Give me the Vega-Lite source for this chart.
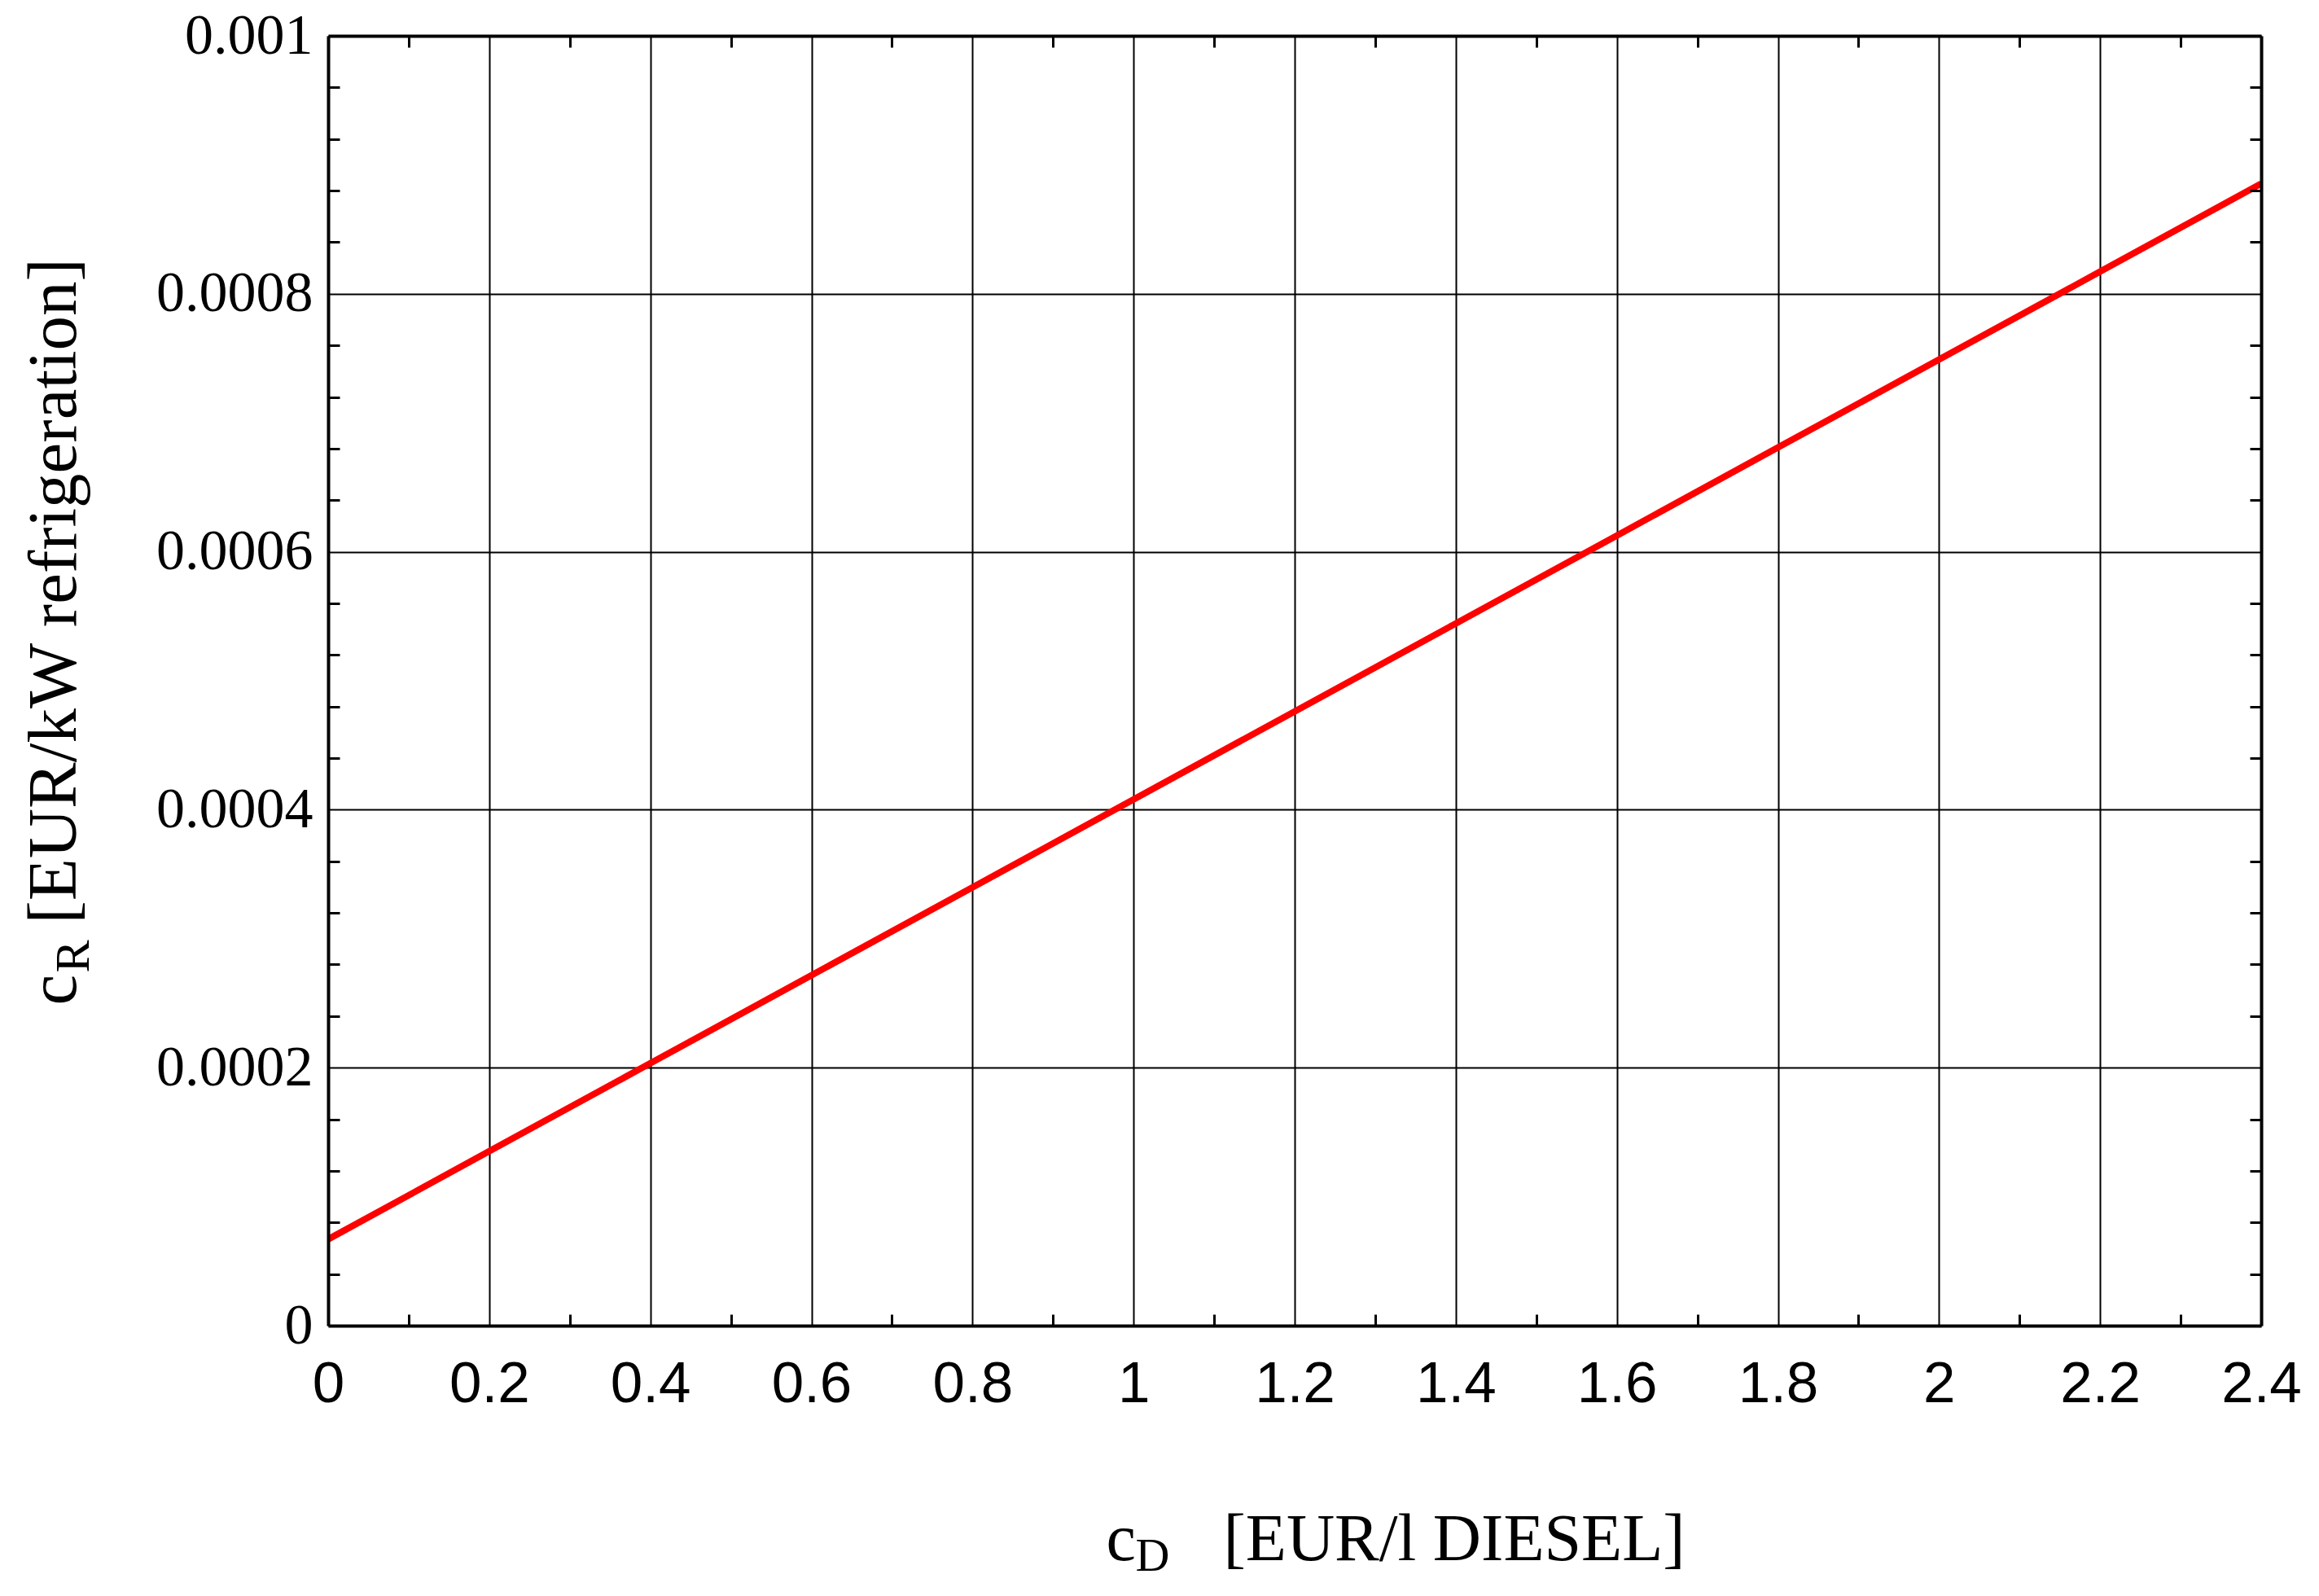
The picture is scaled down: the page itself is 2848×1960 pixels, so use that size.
{
  "$schema": "https://vega.github.io/schema/vega-lite/v6.json",
  "autosize": {"type": "none"},
  "padding": {"left": 403, "top": 44, "right": 71, "bottom": 332},
  "width": 2374,
  "height": 1584,
  "background": "white",
  "config": {
    "view": {"stroke": null},
    "axis": {
      "labelColor": "black",
      "titleColor": "black",
      "titleFontWeight": "normal",
      "titleLimit": 0,
      "labelLimit": 0,
      "labelOverlap": false,
      "labelFlush": false,
      "tickColor": "black",
      "domainColor": "black",
      "gridColor": "black",
      "gridOpacity": 1
    }
  },
  "data": {
    "values": [
      {"cD": 0.0, "cR": 0.0000670},
      {"cD": 0.2, "cR": 0.0001352},
      {"cD": 0.4, "cR": 0.0002034},
      {"cD": 0.6, "cR": 0.0002716},
      {"cD": 0.8, "cR": 0.0003398},
      {"cD": 1.0, "cR": 0.0004080},
      {"cD": 1.2, "cR": 0.0004762},
      {"cD": 1.4, "cR": 0.0005444},
      {"cD": 1.6, "cR": 0.0006126},
      {"cD": 1.8, "cR": 0.0006808},
      {"cD": 2.0, "cR": 0.0007490},
      {"cD": 2.2, "cR": 0.0008172},
      {"cD": 2.4, "cR": 0.0008854}
    ]
  },
  "resolve": {"axis": {"x": "independent", "y": "independent"}},
  "layer": [
    {
      "mark": {"type": "line", "color": "#ff0000", "strokeWidth": 8, "clip": true},
      "encoding": {
        "x": {
          "field": "cD", "type": "quantitative",
          "scale": {"domain": [0, 2.4], "nice": false, "zero": false},
          "axis": {
            "orient": "bottom",
            "values": [0, 0.2, 0.4, 0.6, 0.8, 1, 1.2, 1.4, 1.6, 1.8, 2, 2.2, 2.4],
            "format": "~g",
            "grid": true, "gridWidth": 2,
            "ticks": false, "domain": false,
            "labelFont": "Liberation Sans", "labelFontSize": 71,
            "labelBaseline": "alphabetic", "labelAlign": "center", "labelPadding": 93,
            "title": "[EUR/l DIESEL]",
            "titleFont": "Liberation Serif", "titleFontSize": 82,
            "titleAlign": "left", "titleBaseline": "alphabetic", "titleAngle": 0,
            "titleX": 1099, "titleY": 287,
            "zindex": 0
          }
        },
        "y": {
          "field": "cR", "type": "quantitative",
          "scale": {"domain": [0, 0.001], "nice": false, "zero": false},
          "axis": {
            "orient": "left",
            "values": [0, 0.0002, 0.0004, 0.0006, 0.0008, 0.001],
            "format": "~g",
            "grid": true, "gridWidth": 2,
            "ticks": false, "domain": false,
            "labelFont": "Liberation Serif", "labelFontSize": 70,
            "labelBaseline": "middle", "labelAlign": "right", "labelPadding": 19,
            "title": "[EUR/kW refrigeration]",
            "titleFont": "Liberation Serif", "titleFontSize": 85,
            "titleAlign": "left", "titleBaseline": "alphabetic", "titleAngle": -90,
            "titleX": -311, "titleY": 1090,
            "zindex": 0
          }
        }
      }
    },
    {
      "mark": {"type": "line", "strokeOpacity": 0},
      "encoding": {
        "x": {
          "field": "cD", "type": "quantitative",
          "axis": {
            "orient": "bottom",
            "values": [0.1, 0.3, 0.5, 0.7, 0.9, 1.1, 1.3, 1.5, 1.7, 1.9, 2.1, 2.3],
            "grid": false, "labels": false,
            "ticks": true, "tickSize": -14, "tickWidth": 3,
            "domain": true, "domainWidth": 4,
            "title": "c",
            "titleFont": "Liberation Serif", "titleFontSize": 82,
            "titleAlign": "left", "titleBaseline": "alphabetic", "titleAngle": 0,
            "titleX": 955, "titleY": 287,
            "zindex": 2
          }
        },
        "y": {
          "field": "cR", "type": "quantitative",
          "axis": {
            "orient": "left",
            "values": [0.00004, 0.00008, 0.00012, 0.00016, 0.00024, 0.00028, 0.00032, 0.00036, 0.00044, 0.00048, 0.00052, 0.00056, 0.00064, 0.00068, 0.00072, 0.00076, 0.00084, 0.00088, 0.00092, 0.00096],
            "grid": false, "labels": false,
            "ticks": true, "tickSize": -14, "tickWidth": 3,
            "domain": true, "domainWidth": 4,
            "title": "c",
            "titleFont": "Liberation Serif", "titleFontSize": 85,
            "titleAlign": "left", "titleBaseline": "alphabetic", "titleAngle": -90,
            "titleX": -311, "titleY": 1190,
            "zindex": 2
          }
        }
      }
    },
    {
      "mark": {"type": "line", "strokeOpacity": 0},
      "encoding": {
        "x": {
          "field": "cD", "type": "quantitative",
          "axis": {
            "orient": "top",
            "values": [0.1, 0.3, 0.5, 0.7, 0.9, 1.1, 1.3, 1.5, 1.7, 1.9, 2.1, 2.3],
            "grid": false, "labels": false,
            "ticks": true, "tickSize": -14, "tickWidth": 3,
            "domain": true, "domainWidth": 4,
            "title": "D",
            "titleFont": "Liberation Serif", "titleFontSize": 58,
            "titleAlign": "left", "titleBaseline": "alphabetic", "titleAngle": 0,
            "titleX": 991, "titleY": 1884,
            "zindex": 2
          }
        },
        "y": {
          "field": "cR", "type": "quantitative",
          "axis": {
            "orient": "right",
            "values": [0.00004, 0.00008, 0.00012, 0.00016, 0.00024, 0.00028, 0.00032, 0.00036, 0.00044, 0.00048, 0.00052, 0.00056, 0.00064, 0.00068, 0.00072, 0.00076, 0.00084, 0.00088, 0.00092, 0.00096],
            "grid": false, "labels": false,
            "ticks": true, "tickSize": -14, "tickWidth": 3,
            "domain": true, "domainWidth": 4,
            "title": "R",
            "titleFont": "Liberation Serif", "titleFontSize": 60,
            "titleAlign": "left", "titleBaseline": "alphabetic", "titleAngle": -90,
            "titleX": -2669, "titleY": 1150,
            "zindex": 2
          }
        }
      }
    }
  ]
}
